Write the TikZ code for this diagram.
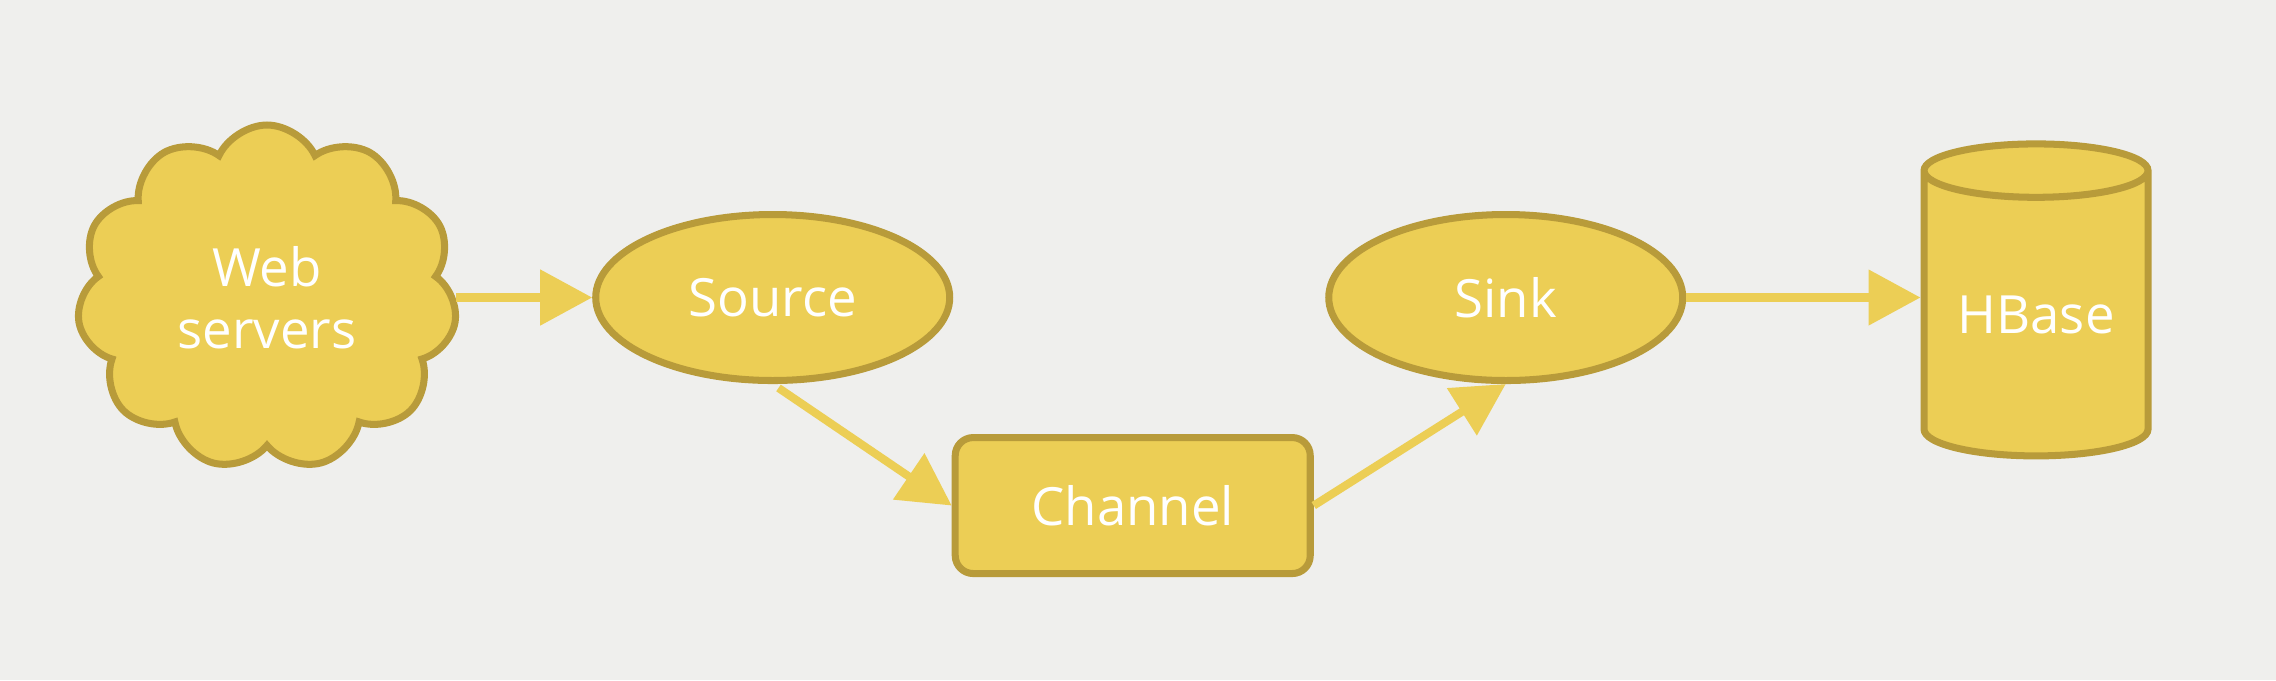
\documentclass[tikz,border=0pt]{standalone}
\usepackage{fontspec}
\setmainfont{Open Sans}
\usetikzlibrary{arrows.meta,positioning,shapes.geometric,shapes.symbols}

\definecolor{bgGray}{HTML}{EFEFED}
\definecolor{flumeFill}{HTML}{ECCE55}
\definecolor{flumeEdge}{HTML}{B89B3A}
\definecolor{flumeTop}{HTML}{F2E09A}

\begin{document}
\begin{tikzpicture}[
  font=\fontsize{15}{17.5}\selectfont,
  part/.style={draw=flumeEdge, fill=flumeFill, line width=2pt, text=white, align=center, inner sep=0pt},
  agent/.style={part, ellipse, minimum width=3.54cm, minimum height=1.66cm},
  flow/.style={draw=flumeFill, line width=2.3pt, -{Triangle[length=0.52cm,width=0.54cm]}}
]
\fill[bgGray] (0,0) rectangle (22.76,-6.8);
\useasboundingbox (0,0) rectangle (22.76,-6.8);

\node[part, cloud, cloud puffs=11, cloud puff arc=130, cloud ignores aspect, minimum width=3.8cm, minimum height=3.45cm] (web) at (2.67,-2.975) {Web\\servers};
\node[agent, right=1.36cm of web] (source) {Source};
\node[agent, right=3.72cm of source] (sink) {Sink};
\node[part, rectangle, rounded corners=0.18cm, minimum width=3.55cm, minimum height=1.36cm, below=0.5cm of source, xshift=3.6cm] (channel) {Channel};
\node[part, cylinder, shape border rotate=90, aspect=0.34, minimum width=2.24cm, minimum height=3.12cm,
  cylinder uses custom fill, cylinder body fill=flumeFill, cylinder end fill=flumeTop] (hbase) at (20.36,-3.15) {HBase};

\path[flow] (web) -- (source);
\path[flow, shorten <=0.07cm] (source.south) -- (channel.west);
\path[flow] (channel.east) -- (sink.south);
\path[flow] (sink.east) -- (sink.east -| hbase.west);

\end{tikzpicture}
\end{document}
